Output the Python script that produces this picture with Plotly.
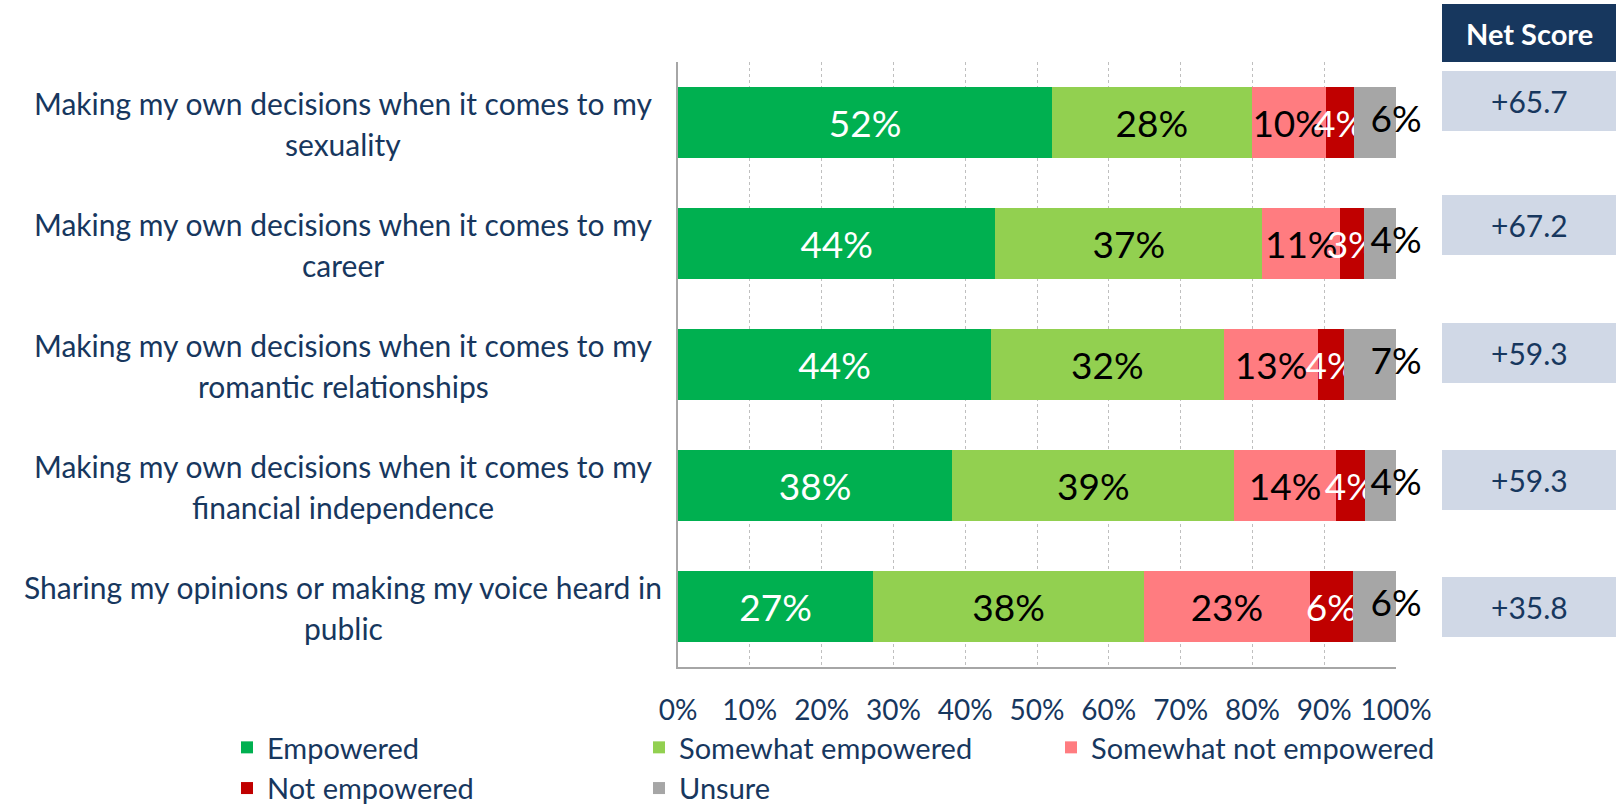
import plotly.graph_objects as go

categories = [
    ["Making my own decisions when it comes to my", "sexuality"],
    ["Making my own decisions when it comes to my", "career"],
    ["Making my own decisions when it comes to my", "romantic relationships"],
    ["Making my own decisions when it comes to my", "financial independence"],
    ["Sharing my opinions or making my voice heard in", "public"],
]
cat_ids = ["sexuality", "career", "romantic", "financial", "public"]

series_names = ["Empowered", "Somewhat empowered", "Somewhat not empowered", "Not empowered", "Unsure"]
empowered = [52.1, 44.2, 43.6, 38.2, 27.2]
somewhat_empowered = [27.8, 37.2, 32.4, 39.3, 37.7]
somewhat_not = [10.3, 10.8, 13.2, 14.1, 23.1]
not_empowered = [3.9, 3.4, 3.5, 4.1, 6.0]
unsure = [5.9, 4.4, 7.3, 4.3, 6.0]

net_scores = ["+65.7", "+67.2", "+59.3", "+59.3", "+35.8"]
x_ticks = [0, 10, 20, 30, 40, 50, 60, 70, 80, 90, 100]
x_tick_labels = ["0%", "10%", "20%", "30%", "40%", "50%", "60%", "70%", "80%", "90%", "100%"]

colors = ["#00B050", "#92D050", "#FF7C80", "#C00000", "#A6A6A6"]
label_colors = ["white", "black", "black", "white", "black"]
NAVY = "#17375E"
FONT = "Lato"

W, H = 1621, 806
ML, MR, MT, MB = 678, 225, 62, 139
PW = W - ML - MR
PH = H - MT - MB

def px_x(x):
    return (x - ML) / PW

def px_y(y):
    return (H - MB - y) / PH

fig = go.Figure()
all_series = [empowered, somewhat_empowered, somewhat_not, not_empowered, unsure]
for i, (name, vals) in enumerate(zip(series_names, all_series)):
    show_text = i < 4
    fig.add_trace(go.Bar(
        y=cat_ids, x=vals, name=name, orientation="h",
        marker=dict(color=colors[i], line=dict(width=0)),
        text=[f"{round(v)}%" for v in vals] if show_text else None,
        textposition="inside" if show_text else "none",
        insidetextanchor="middle",
        constraintext="none",
        textangle=0,
        textfont=dict(family=FONT, size=37, color=label_colors[i]),
        hoverinfo="skip",
        width=0.58,
    ))

# Unsure labels centered at bar end
totals = [sum(v) for v in zip(*all_series)]
fig.add_trace(go.Scatter(
    y=cat_ids, x=totals, mode="text",
    text=[f"{round(v)}%" for v in unsure],
    textposition="middle center",
    textfont=dict(family=FONT, size=37, color="black"),
    showlegend=False, hoverinfo="skip", cliponaxis=False,
))

annotations = []
for cid, lines in zip(cat_ids, categories):
    annotations.append(dict(x=px_x(343), xref="paper", y=cid, yref="y", text=lines[0],
                            showarrow=False, xanchor="center", yanchor="middle", yshift=20,
                            font=dict(family=FONT, size=30, color=NAVY)))
    annotations.append(dict(x=px_x(343), xref="paper", y=cid, yref="y", text=lines[1],
                            showarrow=False, xanchor="center", yanchor="middle", yshift=-21,
                            font=dict(family=FONT, size=30, color=NAVY)))

shapes = []
bx0, bx1 = px_x(1442), px_x(1616)
# header
shapes.append(dict(type="rect", xref="paper", yref="paper", x0=bx0, x1=bx1,
                   y0=px_y(62), y1=px_y(4), fillcolor=NAVY, line=dict(width=0), layer="above"))
annotations.append(dict(x=(bx0 + bx1) / 2, y=(px_y(62) + px_y(4)) / 2, xref="paper", yref="paper",
                        text="<b>Net Score</b>", showarrow=False, xanchor="center", yanchor="middle",
                        font=dict(family=FONT, size=29, color="white")))
box_tops = [71, 195, 323, 450, 577]
box_h = 60
for top, score in zip(box_tops, net_scores):
    y0, y1 = px_y(top + box_h), px_y(top)
    shapes.append(dict(type="rect", xref="paper", yref="paper", x0=bx0, x1=bx1,
                       y0=y0, y1=y1, fillcolor="#D0D8E6", line=dict(width=0), layer="above"))
    annotations.append(dict(x=(bx0 + bx1) / 2, y=(y0 + y1) / 2, xref="paper", yref="paper",
                            text=score, showarrow=False, xanchor="center", yanchor="middle",
                            font=dict(family=FONT, size=30, color=NAVY)))

fig.update_layout(
    width=W, height=H,
    margin=dict(l=ML, r=MR, t=MT, b=MB, pad=0, autoexpand=False),
    barmode="stack", bargap=0.42,
    plot_bgcolor="white", paper_bgcolor="white",
    font=dict(family=FONT, color=NAVY),
    xaxis=dict(range=[0, 100], tickvals=x_ticks, ticktext=x_tick_labels,
               showgrid=True, gridcolor="#BFBFBF", griddash="dot", gridwidth=1,
               showline=True, linecolor="#A6A6A6", linewidth=2, zeroline=False,
               ticks="", ticklabelstandoff=17,
               tickfont=dict(family=FONT, size=28, color=NAVY), fixedrange=True),
    yaxis=dict(categoryorder="array", categoryarray=cat_ids, autorange="reversed",
               showticklabels=False, showline=True, linecolor="#A6A6A6", linewidth=2,
               showgrid=False, zeroline=False, ticks=""),
    legend=dict(orientation="h", xref="paper", yref="paper", x=px_x(227), y=px_y(722),
                xanchor="left", yanchor="top", entrywidth=367, entrywidthmode="pixels",
                font=dict(family=FONT, size=29, color=NAVY), traceorder="normal",
                itemwidth=30, tracegroupgap=0),
    annotations=annotations, shapes=shapes,
    showlegend=True,
)

fig.write_html("out.html", config={"displayModeBar": False},
               post_script="document.body.style.margin='0';")
